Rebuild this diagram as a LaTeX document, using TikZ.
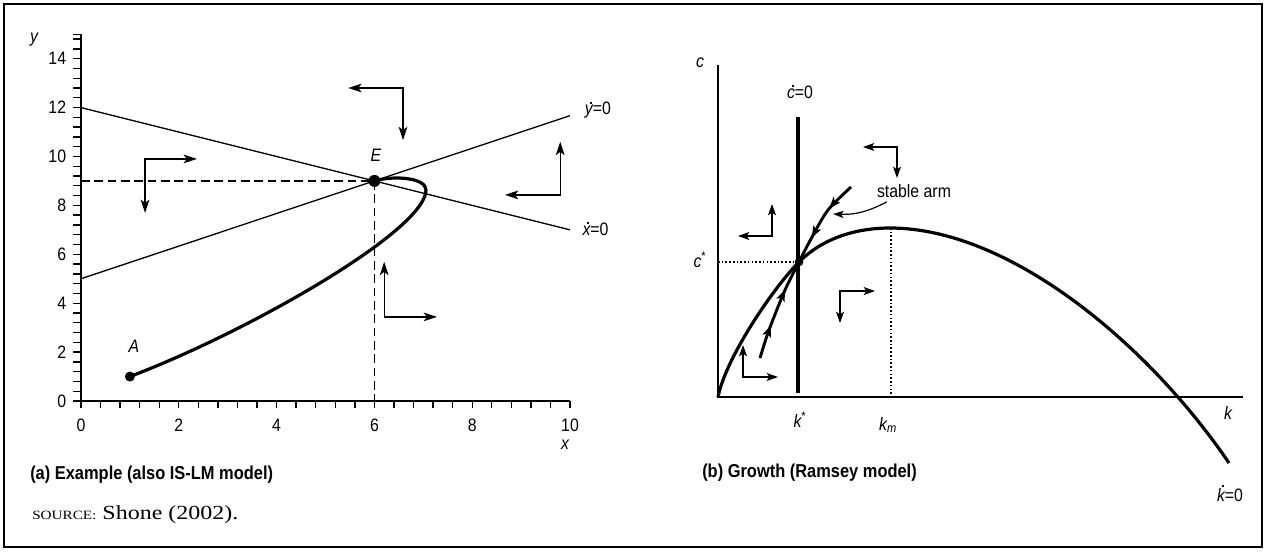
\documentclass[tikz,border=0pt]{standalone}
\usepackage{fontspec}
\setmainfont{Liberation Sans}[FakeStretch=0.88]
\newfontfamily\srcfont{Liberation Serif}[FakeStretch=1.2]
\usetikzlibrary{arrows.meta, calc, decorations.markings}

% dot accent for the time derivatives
\newcommand{\tdot}[2][0.62em]{\leavevmode\setbox0\hbox{#2}%
  \hbox to\wd0{\hss\kern.18em\raisebox{#1}{\rule{0.11em}{0.11em}}\hss}\kern-\wd0\box0}
% a pair of direction arrows from one corner
\newcommand{\flowpair}[4][flow]{\draw[#1] ($#2+(#3,0)$) -| ($#2+(0,#4)$);}

\tikzset{
  lbl/.style={inner sep=0pt},
  axis/.style={line width=1pt},
  isocline/.style={line width=1pt},
  trajectory/.style={line width=2.4pt},
  guide/.style={line width=1pt, dash pattern=on 6.5pt off 3.5pt},
  fineguide/.style={line width=0.9pt, dash pattern=on 1.2pt off 1.6pt},
  dot/.style={circle, fill, inner sep=0pt, minimum size=#1},
  dot/.default=8pt,
  flow/.style={line width=1pt,
    {Stealth[length=10pt,width=6.5pt,inset=2.5pt]}-{Stealth[length=10pt,width=6.5pt,inset=2.5pt]}},
  smallflow/.style={line width=1pt,
    {Stealth[length=8.5pt,width=6pt,inset=2pt]}-{Stealth[length=8.5pt,width=6pt,inset=2pt]}},
  arm/.style={line width=2.2pt, postaction={decorate},
    decoration={markings,
      mark=at position 0.33 with {\arrow{Stealth[length=8.5pt,width=6.5pt,inset=2pt]}},
      mark=at position 0.70 with {\arrow{Stealth[length=8.5pt,width=6.5pt,inset=2pt]}}}},
  pointer/.style={line width=0.9pt, -{Stealth[length=8pt,width=5.5pt,inset=2pt]}},
  caption/.style={inner sep=0pt, anchor=west, font=\fontsize{14}{16}\selectfont\bfseries}
}

\begin{document}
\begin{tikzpicture}[x=0.75pt, y=-0.75pt, font=\fontsize{13.5}{16}\selectfont]
  \useasboundingbox (0,0) rectangle (1266,551);
  \draw[line width=1.8pt] (4,4) rectangle (1262,547);

  % (a) example
  \begin{scope}[shift={(81,401)}, x=36.675pt, y=18.34pt]
    \draw[axis] (0,15) -- (0,0) -- (10,0);
    \foreach \i in {0,...,25} \draw[axis] (0.4*\i,0) -- ++(0,-0.29);
    \foreach \j in {0,...,37} \draw[axis] (0,0.4*\j) -- ++(-0.16,0);
    \draw[axis] (0,15) -- ++(-0.16,0);
    \foreach \i in {0,2,...,10} \node[lbl] at (\i,-0.98) {\i};
    \foreach \j in {0,2,...,14} \node[lbl, anchor=east] at (-0.3,\j) {\j};
    \node[lbl] (ylab) at (-0.96,14.76) {\itshape y};
    \node[lbl] (xlab) at (9.9,-1.8) {\itshape x};

    \coordinate (xdotL) at (0,12);
    \coordinate (xdotR) at (10,7);
    \coordinate (ydotL) at (0,5);
    \coordinate (ydotR) at (10,11.67);
    \coordinate (Ey) at (0,9);
    \coordinate (Ex) at (6,0);
    \draw[isocline] (xdotL) -- (xdotR);
    \draw[isocline] (ydotL) -- (ydotR);
    \draw[guide] (Ey) -- (6,9) -- (Ex);
    \node[dot=9pt] (E) at (6,9) {};
    \node[dot=7.5pt] (A) at (1,1) {};
    \node[lbl] (Elab) at (6.03,10.06) {\itshape E};
    \node[lbl] (Alab) at (1.08,2.25) {\itshape A};
    \node[lbl, anchor=west] (ydotlab) at (10.3,11.9) {\tdot{\itshape y}=0};
    \node[lbl, anchor=west] (xdotlab) at (10.25,7.03) {\tdot{\itshape x}=0};

    \draw[trajectory] (A.center) .. controls (3.456,2.863) and (7.055,6.994) .. (7.055,8.63)
      .. controls (7.055,9.12) and (6.42,9.24) .. (E.center);

    \flowpair{(6.585,12.8)}{-1.12}{-2.13}
    \flowpair{(1.31,9.9)}{1.06}{-2.21}
    \flowpair{(9.8,8.43)}{-1.13}{2.17}
    \flowpair{(6.2,3.44)}{1.08}{2.25}
  \end{scope}

  % (b) growth
  \begin{scope}[shift={(718,397)}, y=0.75pt]
    \draw[axis] (0,332) -- (0,0) -- (525,0);
    \node[lbl] (clab) at (-18,334) {\itshape c};
    \node[lbl] (klab) at (510,-16) {\itshape k};

    \coordinate (cdotTop) at (80,280);
    \coordinate (cdotBot) at (80,4);
    \draw[line width=2.4pt] (cdotTop) -- (cdotBot);
    \node[lbl] (cdotlab) at (82,305) {\tdot{\itshape c}=0};

    \node[dot=6.5pt] (S) at (81,135) {};
    \coordinate (peak) at (172,169);
    \draw[trajectory] (0,0) .. controls (8,40) and (56,110) .. (S.center)
      .. controls (106,160) and (140,169) .. (peak)
      .. controls (292,169) and (431,52) .. (511,-66);
    \node[lbl] (kdotlab) at (512,-96) {\tdot[0.8em]{\itshape k}=0};

    \coordinate (cstar) at (0,135);
    \coordinate (kmBot) at (173,0);
    \draw[fineguide] (cstar) -- (S);
    \draw[fineguide] (peak -| kmBot) -- (kmBot);
    \node[lbl] (cstarlab) at (-18,137) {{\itshape c}\textsuperscript{*}};
    \node[lbl] (kstarlab) at (82,-23) {{\itshape k}\textsuperscript{*}};
    \node[lbl] (kmlab) at (170,-28) {{\itshape k}\textsubscript{\itshape m}};

    \draw[arm] plot[smooth] coordinates {(42,39) (51,67) (67,107) (S.center)};
    \draw[arm] plot[smooth] coordinates {(133,210) (110,187) (94,160) (S.center)};
    \node[lbl] (arm) at (196,206) {stable arm};
    \coordinate (armtip) at (115,183);
    \draw[pointer] ($(arm.south west)+(10,-4)$) to[bend left=15] (armtip);

    \flowpair[smallflow]{(179,250)}{-34}{-31}
    \flowpair[smallflow]{(54,161)}{-34}{32}
    \flowpair[smallflow]{(122,106)}{35}{-32}
    \flowpair[smallflow]{(25,20)}{35}{32}
  \end{scope}

  \node[caption] (capA) at (30,475) {(a) Example (also IS-LM model)};
  \node[caption] (capB) at (702,473) {(b) Growth (Ramsey model)};
  \node[lbl, anchor=west, font=\srcfont\fontsize{15}{18}\selectfont] (src) at (32,515)
    {{\fontsize{9.5}{11}\selectfont SOURCE:} Shone (2002).};
\end{tikzpicture}
\end{document}
